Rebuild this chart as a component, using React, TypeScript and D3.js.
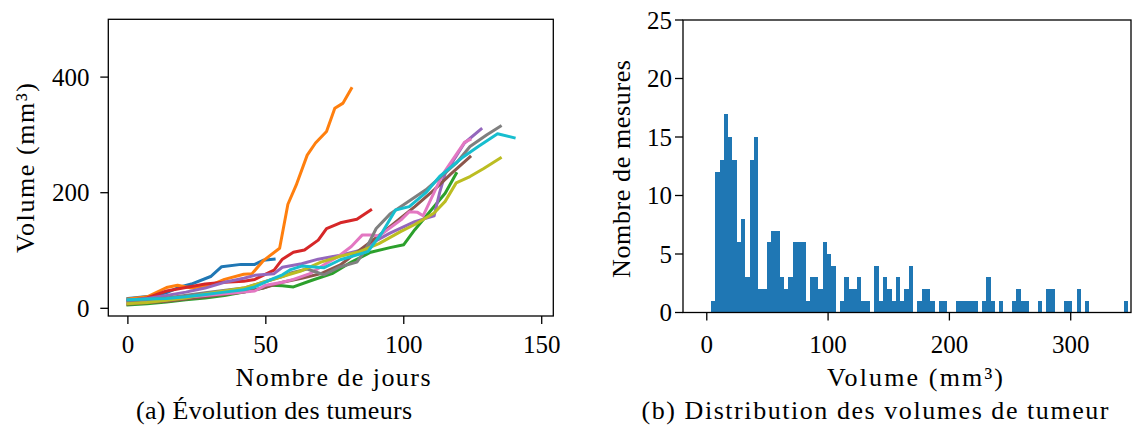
import React from "react";
import * as d3 from "d3";

// ---------- Data: tumour growth curves (day, volume mm3) ----------
const tumeur1: [number, number][] = [[0,17],[8,21],[14,27],[19,37],[23,42],[30,55],[34,72],[41,76],[46,76],[49,83],[53,85]];
const tumeur2: [number, number][] = [[0,16],[7,20],[14,36],[18,40],[23,35],[30,40],[35,50],[42,59],[45,60],[49,82],[55,104],[58,180],[61,213],[65,265],[68,286],[72,306],[75,346],[78,355],[81,380]];
const tumeur3: [number, number][] = [[0,6],[7,8],[14,11],[21,15],[28,18],[35,22],[42,28],[49,35],[52,40],[56,39],[60,37],[67,49],[74,60],[81,80],[88,97],[95,105],[100,110],[104,136],[111,176],[115,199],[119,233]];
const tumeur4: [number, number][] = [[0,13],[7,18],[14,30],[21,36],[28,42],[35,45],[42,47],[46,50],[53,66],[56,85],[60,97],[64,101],[69,118],[72,138],[77,148],[83,154],[88,170]];
const tumeur5: [number, number][] = [[0,14],[7,17],[14,22],[21,28],[28,35],[35,45],[42,52],[46,57],[53,60],[56,71],[63,77],[69,85],[77,92],[84,100],[90,117],[95,130],[104,150],[111,160],[113,200],[115,233],[122,286],[128,310]];
const tumeur6: [number, number][] = [[0,7],[14,12],[28,20],[42,28],[49,35],[56,45],[63,52],[70,60],[77,75],[83,97],[90,122],[96,145],[104,176],[111,205],[117,232],[124,262]];
const tumeur7: [number, number][] = [[0,9],[7,12],[14,15],[21,19],[28,22],[35,25],[42,28],[46,30],[50,40],[56,45],[60,50],[66,60],[72,78],[76,89],[81,107],[85,127],[88,127],[91,125],[99,153],[102,167],[105,166],[107,160],[114,231],[122,287],[124,292]];
const tumeur8: [number, number][] = [[0,12],[14,18],[28,27],[42,35],[49,45],[56,55],[59,61],[65,68],[71,58],[77,72],[83,80],[86,100],[90,138],[95,163],[99,176],[108,205],[114,230],[119,251],[124,280],[130,300],[135,315]];
const tumeur9: [number, number][] = [[0,8],[7,10],[14,14],[21,18],[28,25],[35,30],[42,35],[49,45],[56,55],[63,65],[70,80],[77,90],[84,98],[91,112],[99,133],[104,145],[111,165],[115,185],[119,217],[124,228],[129,242],[135,260]];
const tumeur10: [number, number][] = [[0,15],[7,16],[14,17],[21,20],[28,24],[35,28],[42,32],[46,37],[52,50],[56,58],[59,67],[63,73],[71,70],[77,84],[87,98],[92,130],[97,170],[102,176],[108,200],[113,228],[121,260],[127,280],[134,302],[140,295]];
const tumeurs = [tumeur1, tumeur2, tumeur3, tumeur4, tumeur5, tumeur6, tumeur7, tumeur8, tumeur9, tumeur10];

// ---------- Data: histogram of volumes ----------
const histBinStart = 3.46; // mm3
const histBinWidth = 3.545; // mm3
const histCounts = [
  1, 12, 13, 17, 15, 13, 6, 8, 3, 13,
  15, 2, 2, 6, 7, 7, 3, 2, 3, 6,
  6, 6, 1, 3, 3, 2, 6, 5, 4, 0,
  1, 3, 2, 2, 3, 1, 1, 0, 4, 1,
  3, 2, 1, 3, 1, 2, 4, 0, 1, 2,
  2, 1, 0, 1, 1, 0, 0, 1, 1, 1,
  1, 1, 0, 1, 3, 1, 0, 1, 0, 0,
  1, 2, 1, 1, 0, 0, 1, 0, 2, 2,
  0, 0, 1, 1, 0, 2, 0, 1, 0, 0,
  0, 0, 0, 0, 0, 0, 1,
];

// ---------- Ticks & labels ----------
const leftXTicks = [0, 50, 100, 150];
const leftYTicks = [0, 200, 400];
const rightXTicks = [0, 100, 200, 300];
const rightYTicks = [0, 5, 10, 15, 20, 25];
const leftXLabel = "Nombre de jours";
const leftYLabel = "Volume (mm³)";
const leftCaption = "(a) Évolution des tumeurs";
const rightXLabel = "Volume (mm³)";
const rightYLabel = "Nombre de mesures";
const rightCaption = "(b) Distribution des volumes de tumeur";

const FONT = "'Liberation Serif', 'DejaVu Serif', serif";
const FS = 25;
const LFS = 26;

export default function App() {
  const xL = d3.scaleLinear().domain([-7.1, 154.2]).range([108.3, 553.3]);
  const yL = d3.scaleLinear().domain([-13.3, 500]).range([316, 19.3]);
  const xR = d3.scaleLinear().domain([-19.6, 349.7]).range([683, 1131]);
  const yR = d3.scaleLinear().domain([0, 25]).range([312.5, 20]);

  const line = d3
    .line<[number, number]>()
    .x((d) => xL(d[0]))
    .y((d) => yL(d[1]));
  const colors = d3.schemeCategory10;

  const bins = histCounts.map((c, i) => ({
    x0: histBinStart + i * histBinWidth,
    x1: histBinStart + (i + 1) * histBinWidth,
    c,
  }));

  const [l0, l1] = xL.range();
  const [t0, b0] = [yL.range()[1], yL.range()[0]];
  const [r0, r1] = xR.range();
  const [t1, b1] = [yR.range()[1], yR.range()[0]];

  const tickLen = 8;

  return (
    <svg
      width={1132}
      height={430}
      style={{ position: "absolute", left: 0, top: 0, background: "#fff" }}
      fontFamily={FONT}
      fontSize={FS}
    >
      <rect x={0} y={0} width={1132} height={430} fill="#fff" />
      <defs>
        <clipPath id="clipL">
          <rect x={l0} y={t0} width={l1 - l0} height={b0 - t0} />
        </clipPath>
        <clipPath id="clipR">
          <rect x={r0} y={t1} width={r1 - r0} height={b1 - t1} />
        </clipPath>
      </defs>

      {/* ---------- Left panel ---------- */}
      <g clipPath="url(#clipL)">
        {tumeurs.map((s, i) => (
          <path
            key={i}
            d={line(s) || ""}
            fill="none"
            stroke={colors[i]}
            strokeWidth={3}
            strokeLinejoin="round"
            strokeLinecap="square"
          />
        ))}
      </g>
      <rect x={l0} y={t0} width={l1 - l0} height={b0 - t0} fill="none" stroke="#000" strokeWidth={1.3} />
      {leftXTicks.map((t) => (
        <g key={t}>
          <line x1={xL(t)} x2={xL(t)} y1={b0} y2={b0 + tickLen} stroke="#000" strokeWidth={1.3} />
          <text x={xL(t)} y={353} textAnchor="middle">{t}</text>
        </g>
      ))}
      {leftYTicks.map((t) => (
        <g key={t}>
          <line x1={l0 - tickLen} x2={l0} y1={yL(t)} y2={yL(t)} stroke="#000" strokeWidth={1.3} />
          <text x={89.5} y={yL(t) + 8.5} textAnchor="end">{t}</text>
        </g>
      ))}
      <g fontSize={LFS}>
        <text x={333} y={386} textAnchor="middle" textLength={195} lengthAdjust="spacing">{leftXLabel}</text>
        <text transform={`translate(34,168) rotate(-90)`} textAnchor="middle" textLength={170} lengthAdjust="spacing">{leftYLabel}</text>
        <text x={274} y={419} textAnchor="middle" textLength={276} lengthAdjust="spacing">{leftCaption}</text>
      </g>

      {/* ---------- Right panel ---------- */}
      <g clipPath="url(#clipR)" shapeRendering="crispEdges">
        {bins.map((b, i) =>
          b.c > 0 ? (
            <rect
              key={i}
              x={xR(b.x0)}
              y={yR(b.c)}
              width={xR(b.x1) - xR(b.x0)}
              height={yR(0) - yR(b.c)}
              fill="#1f77b4"
            />
          ) : null
        )}
      </g>
      <rect x={r0} y={t1} width={r1 - r0} height={b1 - t1} fill="none" stroke="#000" strokeWidth={1.3} />
      {rightXTicks.map((t) => (
        <g key={t}>
          <line x1={xR(t)} x2={xR(t)} y1={b1} y2={b1 + tickLen} stroke="#000" strokeWidth={1.3} />
          <text x={xR(t)} y={353} textAnchor="middle">{t}</text>
        </g>
      ))}
      {rightYTicks.map((t) => (
        <g key={t}>
          <line x1={r0 - tickLen} x2={r0} y1={yR(t)} y2={yR(t)} stroke="#000" strokeWidth={1.3} />
          <text x={672} y={yR(t) + 8.5} textAnchor="end">{t}</text>
        </g>
      ))}
      <g fontSize={LFS}>
        <text x={915} y={386} textAnchor="middle" textLength={176} lengthAdjust="spacing">{rightXLabel}</text>
        <text transform={`translate(630,169) rotate(-90)`} textAnchor="middle" textLength={218} lengthAdjust="spacing">{rightYLabel}</text>
        <text x={875} y={419} textAnchor="middle" textLength={467} lengthAdjust="spacing">{rightCaption}</text>
      </g>
    </svg>
  );
}
